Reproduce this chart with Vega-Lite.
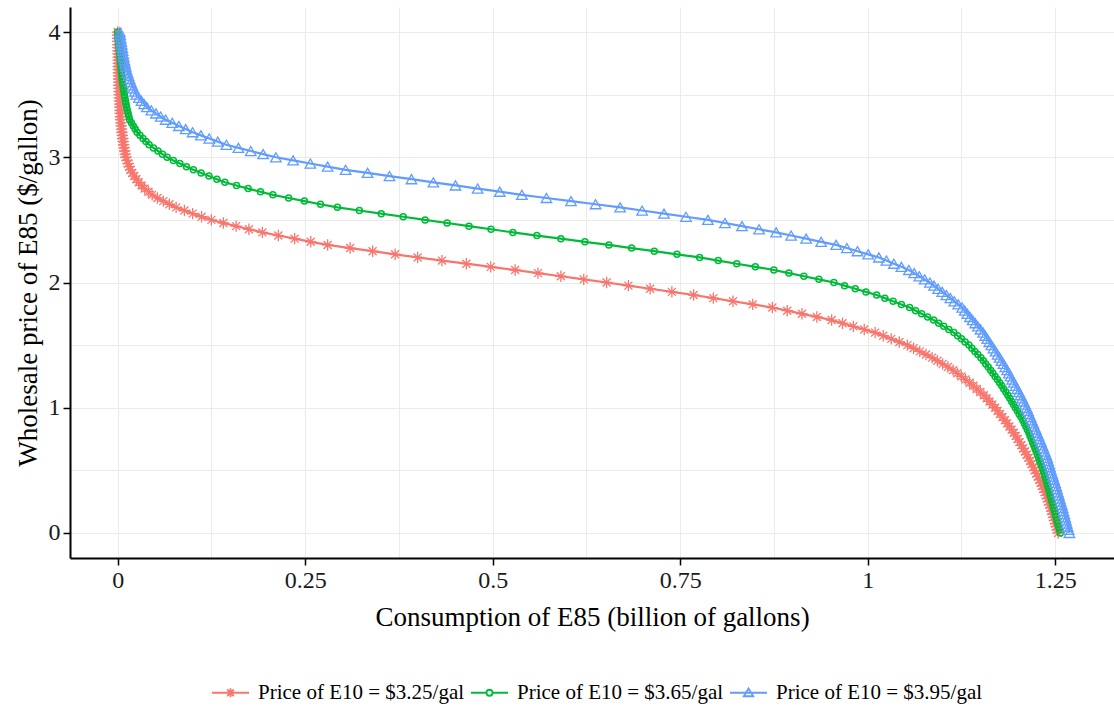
{
"$schema": "https://vega.github.io/schema/vega-lite/v6.json",
"width": 1044, "height": 551,
"autosize": {"type": "none"},
"padding": {"left": 70, "top": 7, "right": 0, "bottom": 157},
"background": "white",
"config": {"view": {"stroke": null}, "font": "Liberation Serif"},
"data": {"values": [
{"s":"r","x":1.254,"y":0},{"s":"r","x":1.2528,"y":0.025},{"s":"r","x":1.2515,"y":0.05},{"s":"r","x":1.2503,"y":0.075},{"s":"r","x":1.249,"y":0.1},
{"s":"r","x":1.2478,"y":0.125},{"s":"r","x":1.2465,"y":0.15},{"s":"r","x":1.2453,"y":0.175},{"s":"r","x":1.244,"y":0.2},{"s":"r","x":1.2425,"y":0.225},
{"s":"r","x":1.241,"y":0.25},{"s":"r","x":1.2395,"y":0.275},{"s":"r","x":1.238,"y":0.3},{"s":"r","x":1.2363,"y":0.325},{"s":"r","x":1.2345,"y":0.35},
{"s":"r","x":1.2328,"y":0.375},{"s":"r","x":1.231,"y":0.4},{"s":"r","x":1.229,"y":0.425},{"s":"r","x":1.227,"y":0.45},{"s":"r","x":1.225,"y":0.475},
{"s":"r","x":1.223,"y":0.5},{"s":"r","x":1.2209,"y":0.525},{"s":"r","x":1.2188,"y":0.55},{"s":"r","x":1.2166,"y":0.575},{"s":"r","x":1.2145,"y":0.6},
{"s":"r","x":1.2121,"y":0.625},{"s":"r","x":1.2098,"y":0.65},{"s":"r","x":1.2074,"y":0.675},{"s":"r","x":1.205,"y":0.7},{"s":"r","x":1.2025,"y":0.725},
{"s":"r","x":1.2,"y":0.75},{"s":"r","x":1.1975,"y":0.775},{"s":"r","x":1.195,"y":0.8},{"s":"r","x":1.192,"y":0.825},{"s":"r","x":1.189,"y":0.85},
{"s":"r","x":1.186,"y":0.875},{"s":"r","x":1.183,"y":0.9},{"s":"r","x":1.1798,"y":0.925},{"s":"r","x":1.1765,"y":0.95},{"s":"r","x":1.1733,"y":0.975},
{"s":"r","x":1.17,"y":1},{"s":"r","x":1.1663,"y":1.025},{"s":"r","x":1.1625,"y":1.05},{"s":"r","x":1.1588,"y":1.075},{"s":"r","x":1.155,"y":1.1},
{"s":"r","x":1.1503,"y":1.125},{"s":"r","x":1.1455,"y":1.15},{"s":"r","x":1.1408,"y":1.175},{"s":"r","x":1.136,"y":1.2},{"s":"r","x":1.1305,"y":1.225},
{"s":"r","x":1.125,"y":1.25},{"s":"r","x":1.1195,"y":1.275},{"s":"r","x":1.114,"y":1.3},{"s":"r","x":1.107,"y":1.325},{"s":"r","x":1.1,"y":1.35},
{"s":"r","x":1.093,"y":1.375},{"s":"r","x":1.086,"y":1.4},{"s":"r","x":1.0778,"y":1.425},{"s":"r","x":1.0695,"y":1.45},{"s":"r","x":1.0613,"y":1.475},
{"s":"r","x":1.053,"y":1.5},{"s":"r","x":1.0423,"y":1.525},{"s":"r","x":1.0315,"y":1.55},{"s":"r","x":1.0208,"y":1.575},{"s":"r","x":1.01,"y":1.6},
{"s":"r","x":0.9955,"y":1.625},{"s":"r","x":0.981,"y":1.65},{"s":"r","x":0.9665,"y":1.675},{"s":"r","x":0.952,"y":1.7},{"s":"r","x":0.9323,"y":1.725},
{"s":"r","x":0.9125,"y":1.75},{"s":"r","x":0.8928,"y":1.775},{"s":"r","x":0.873,"y":1.8},{"s":"r","x":0.8468,"y":1.825},{"s":"r","x":0.8205,"y":1.85},
{"s":"r","x":0.7943,"y":1.875},{"s":"r","x":0.768,"y":1.9},{"s":"r","x":0.739,"y":1.925},{"s":"r","x":0.71,"y":1.95},{"s":"r","x":0.681,"y":1.975},
{"s":"r","x":0.652,"y":2},{"s":"r","x":0.6215,"y":2.025},{"s":"r","x":0.591,"y":2.05},{"s":"r","x":0.5605,"y":2.075},{"s":"r","x":0.53,"y":2.1},
{"s":"r","x":0.4975,"y":2.125},{"s":"r","x":0.465,"y":2.15},{"s":"r","x":0.4325,"y":2.175},{"s":"r","x":0.4,"y":2.2},{"s":"r","x":0.37,"y":2.225},
{"s":"r","x":0.34,"y":2.25},{"s":"r","x":0.31,"y":2.275},{"s":"r","x":0.28,"y":2.3},{"s":"r","x":0.2575,"y":2.325},{"s":"r","x":0.236,"y":2.35},
{"s":"r","x":0.2143,"y":2.375},{"s":"r","x":0.193,"y":2.4},{"s":"r","x":0.175,"y":2.425},{"s":"r","x":0.158,"y":2.45},{"s":"r","x":0.141,"y":2.475},
{"s":"r","x":0.125,"y":2.5},{"s":"r","x":0.112,"y":2.525},{"s":"r","x":0.1,"y":2.55},{"s":"r","x":0.089,"y":2.575},{"s":"r","x":0.078,"y":2.6},
{"s":"r","x":0.069,"y":2.625},{"s":"r","x":0.061,"y":2.65},{"s":"r","x":0.053,"y":2.675},{"s":"r","x":0.046,"y":2.7},{"s":"r","x":0.041,"y":2.725},
{"s":"r","x":0.036,"y":2.75},{"s":"r","x":0.032,"y":2.775},{"s":"r","x":0.028,"y":2.8},{"s":"r","x":0.025,"y":2.825},{"s":"r","x":0.022,"y":2.85},
{"s":"r","x":0.0195,"y":2.875},{"s":"r","x":0.017,"y":2.9},{"s":"r","x":0.0155,"y":2.925},{"s":"r","x":0.014,"y":2.95},{"s":"r","x":0.0125,"y":2.975},
{"s":"r","x":0.011,"y":3},{"s":"r","x":0.0102,"y":3.025},{"s":"r","x":0.0095,"y":3.05},{"s":"r","x":0.0087,"y":3.075},{"s":"r","x":0.008,"y":3.1},
{"s":"r","x":0.0074,"y":3.125},{"s":"r","x":0.0068,"y":3.15},{"s":"r","x":0.0063,"y":3.175},{"s":"r","x":0.0057,"y":3.2},{"s":"r","x":0.0053,"y":3.225},
{"s":"r","x":0.0048,"y":3.25},{"s":"r","x":0.0044,"y":3.275},{"s":"r","x":0.004,"y":3.3},{"s":"r","x":0.0037,"y":3.325},{"s":"r","x":0.0034,"y":3.35},
{"s":"r","x":0.0032,"y":3.375},{"s":"r","x":0.0029,"y":3.4},{"s":"r","x":0.0027,"y":3.425},{"s":"r","x":0.0025,"y":3.45},{"s":"r","x":0.0023,"y":3.475},
{"s":"r","x":0.0021,"y":3.5},{"s":"r","x":0.0019,"y":3.525},{"s":"r","x":0.0018,"y":3.55},{"s":"r","x":0.0016,"y":3.575},{"s":"r","x":0.0015,"y":3.6},
{"s":"r","x":0.0014,"y":3.625},{"s":"r","x":0.0012,"y":3.65},{"s":"r","x":0.0011,"y":3.675},{"s":"r","x":0.001,"y":3.7},{"s":"r","x":0.0009,"y":3.725},
{"s":"r","x":0.0008,"y":3.75},{"s":"r","x":0.0007,"y":3.775},{"s":"r","x":0.0006,"y":3.8},{"s":"r","x":0.0005,"y":3.825},{"s":"r","x":0.0004,"y":3.85},
{"s":"r","x":0.00035,"y":3.875},{"s":"r","x":0.0003,"y":3.9},{"s":"r","x":0.0002,"y":3.925},{"s":"r","x":0.00015,"y":3.95},{"s":"r","x":0.0001,"y":3.975},
{"s":"r","x":0,"y":4},
{"s":"g","x":1.257,"y":0},{"s":"g","x":1.2559,"y":0.025},{"s":"g","x":1.2548,"y":0.05},{"s":"g","x":1.2536,"y":0.075},{"s":"g","x":1.2525,"y":0.1},
{"s":"g","x":1.2514,"y":0.125},{"s":"g","x":1.2503,"y":0.15},{"s":"g","x":1.2491,"y":0.175},{"s":"g","x":1.248,"y":0.2},{"s":"g","x":1.2469,"y":0.225},
{"s":"g","x":1.2458,"y":0.25},{"s":"g","x":1.2446,"y":0.275},{"s":"g","x":1.2435,"y":0.3},{"s":"g","x":1.2424,"y":0.325},{"s":"g","x":1.2413,"y":0.35},
{"s":"g","x":1.2401,"y":0.375},{"s":"g","x":1.239,"y":0.4},{"s":"g","x":1.2378,"y":0.425},{"s":"g","x":1.2365,"y":0.45},{"s":"g","x":1.2353,"y":0.475},
{"s":"g","x":1.234,"y":0.5},{"s":"g","x":1.2325,"y":0.525},{"s":"g","x":1.231,"y":0.55},{"s":"g","x":1.2295,"y":0.575},{"s":"g","x":1.228,"y":0.6},
{"s":"g","x":1.2264,"y":0.625},{"s":"g","x":1.2248,"y":0.65},{"s":"g","x":1.2231,"y":0.675},{"s":"g","x":1.2215,"y":0.7},{"s":"g","x":1.2199,"y":0.725},
{"s":"g","x":1.2183,"y":0.75},{"s":"g","x":1.2166,"y":0.775},{"s":"g","x":1.215,"y":0.8},{"s":"g","x":1.213,"y":0.825},{"s":"g","x":1.211,"y":0.85},
{"s":"g","x":1.209,"y":0.875},{"s":"g","x":1.207,"y":0.9},{"s":"g","x":1.2045,"y":0.925},{"s":"g","x":1.202,"y":0.95},{"s":"g","x":1.1995,"y":0.975},
{"s":"g","x":1.197,"y":1},{"s":"g","x":1.1945,"y":1.025},{"s":"g","x":1.192,"y":1.05},{"s":"g","x":1.1895,"y":1.075},{"s":"g","x":1.187,"y":1.1},
{"s":"g","x":1.1843,"y":1.125},{"s":"g","x":1.1815,"y":1.15},{"s":"g","x":1.1788,"y":1.175},{"s":"g","x":1.176,"y":1.2},{"s":"g","x":1.173,"y":1.225},
{"s":"g","x":1.17,"y":1.25},{"s":"g","x":1.167,"y":1.275},{"s":"g","x":1.164,"y":1.3},{"s":"g","x":1.1608,"y":1.325},{"s":"g","x":1.1575,"y":1.35},
{"s":"g","x":1.1543,"y":1.375},{"s":"g","x":1.151,"y":1.4},{"s":"g","x":1.147,"y":1.425},{"s":"g","x":1.143,"y":1.45},{"s":"g","x":1.139,"y":1.475},
{"s":"g","x":1.135,"y":1.5},{"s":"g","x":1.13,"y":1.525},{"s":"g","x":1.125,"y":1.55},{"s":"g","x":1.12,"y":1.575},{"s":"g","x":1.115,"y":1.6},
{"s":"g","x":1.1083,"y":1.625},{"s":"g","x":1.1015,"y":1.65},{"s":"g","x":1.0948,"y":1.675},{"s":"g","x":1.088,"y":1.7},{"s":"g","x":1.08,"y":1.725},
{"s":"g","x":1.072,"y":1.75},{"s":"g","x":1.064,"y":1.775},{"s":"g","x":1.056,"y":1.8},{"s":"g","x":1.045,"y":1.825},{"s":"g","x":1.034,"y":1.85},
{"s":"g","x":1.023,"y":1.875},{"s":"g","x":1.012,"y":1.9},{"s":"g","x":0.9978,"y":1.925},{"s":"g","x":0.9835,"y":1.95},{"s":"g","x":0.9693,"y":1.975},
{"s":"g","x":0.955,"y":2},{"s":"g","x":0.935,"y":2.025},{"s":"g","x":0.915,"y":2.05},{"s":"g","x":0.895,"y":2.075},{"s":"g","x":0.875,"y":2.1},
{"s":"g","x":0.8503,"y":2.125},{"s":"g","x":0.8255,"y":2.15},{"s":"g","x":0.8008,"y":2.175},{"s":"g","x":0.776,"y":2.2},{"s":"g","x":0.7458,"y":2.225},
{"s":"g","x":0.7155,"y":2.25},{"s":"g","x":0.6853,"y":2.275},{"s":"g","x":0.655,"y":2.3},{"s":"g","x":0.623,"y":2.325},{"s":"g","x":0.591,"y":2.35},
{"s":"g","x":0.559,"y":2.375},{"s":"g","x":0.527,"y":2.4},{"s":"g","x":0.4978,"y":2.425},{"s":"g","x":0.4685,"y":2.45},{"s":"g","x":0.4393,"y":2.475},
{"s":"g","x":0.41,"y":2.5},{"s":"g","x":0.3808,"y":2.525},{"s":"g","x":0.3515,"y":2.55},{"s":"g","x":0.3223,"y":2.575},{"s":"g","x":0.293,"y":2.6},
{"s":"g","x":0.2705,"y":2.625},{"s":"g","x":0.249,"y":2.65},{"s":"g","x":0.228,"y":2.675},{"s":"g","x":0.207,"y":2.7},{"s":"g","x":0.1905,"y":2.725},
{"s":"g","x":0.174,"y":2.75},{"s":"g","x":0.1585,"y":2.775},{"s":"g","x":0.143,"y":2.8},{"s":"g","x":0.1323,"y":2.825},{"s":"g","x":0.1218,"y":2.85},
{"s":"g","x":0.1113,"y":2.875},{"s":"g","x":0.101,"y":2.9},{"s":"g","x":0.0918,"y":2.925},{"s":"g","x":0.083,"y":2.95},{"s":"g","x":0.0743,"y":2.975},
{"s":"g","x":0.066,"y":3},{"s":"g","x":0.0598,"y":3.025},{"s":"g","x":0.0538,"y":3.05},{"s":"g","x":0.0478,"y":3.075},{"s":"g","x":0.042,"y":3.1},
{"s":"g","x":0.0378,"y":3.125},{"s":"g","x":0.0338,"y":3.15},{"s":"g","x":0.0298,"y":3.175},{"s":"g","x":0.026,"y":3.2},{"s":"g","x":0.0234,"y":3.225},
{"s":"g","x":0.0209,"y":3.25},{"s":"g","x":0.0184,"y":3.275},{"s":"g","x":0.016,"y":3.3},{"s":"g","x":0.015,"y":3.325},{"s":"g","x":0.014,"y":3.35},
{"s":"g","x":0.013,"y":3.375},{"s":"g","x":0.012,"y":3.4},{"s":"g","x":0.0112,"y":3.425},{"s":"g","x":0.0105,"y":3.45},{"s":"g","x":0.0097,"y":3.475},
{"s":"g","x":0.009,"y":3.5},{"s":"g","x":0.0084,"y":3.525},{"s":"g","x":0.0078,"y":3.55},{"s":"g","x":0.0071,"y":3.575},{"s":"g","x":0.0065,"y":3.6},
{"s":"g","x":0.0061,"y":3.625},{"s":"g","x":0.0057,"y":3.65},{"s":"g","x":0.0052,"y":3.675},{"s":"g","x":0.0048,"y":3.7},{"s":"g","x":0.0044,"y":3.725},
{"s":"g","x":0.004,"y":3.75},{"s":"g","x":0.0036,"y":3.775},{"s":"g","x":0.0032,"y":3.8},{"s":"g","x":0.0028,"y":3.825},{"s":"g","x":0.0024,"y":3.85},
{"s":"g","x":0.002,"y":3.875},{"s":"g","x":0.0016,"y":3.9},{"s":"g","x":0.0012,"y":3.925},{"s":"g","x":0.0008,"y":3.95},{"s":"g","x":0.0004,"y":3.975},
{"s":"g","x":0,"y":4},
{"s":"b","x":1.269,"y":0},{"s":"b","x":1.2679,"y":0.025},{"s":"b","x":1.2668,"y":0.05},{"s":"b","x":1.2656,"y":0.075},{"s":"b","x":1.2645,"y":0.1},
{"s":"b","x":1.2634,"y":0.125},{"s":"b","x":1.2623,"y":0.15},{"s":"b","x":1.2611,"y":0.175},{"s":"b","x":1.26,"y":0.2},{"s":"b","x":1.2588,"y":0.225},
{"s":"b","x":1.2575,"y":0.25},{"s":"b","x":1.2563,"y":0.275},{"s":"b","x":1.255,"y":0.3},{"s":"b","x":1.2538,"y":0.325},{"s":"b","x":1.2525,"y":0.35},
{"s":"b","x":1.2513,"y":0.375},{"s":"b","x":1.25,"y":0.4},{"s":"b","x":1.2486,"y":0.425},{"s":"b","x":1.2473,"y":0.45},{"s":"b","x":1.2459,"y":0.475},
{"s":"b","x":1.2445,"y":0.5},{"s":"b","x":1.2433,"y":0.525},{"s":"b","x":1.242,"y":0.55},{"s":"b","x":1.2408,"y":0.575},{"s":"b","x":1.2395,"y":0.6},
{"s":"b","x":1.2379,"y":0.625},{"s":"b","x":1.2363,"y":0.65},{"s":"b","x":1.2346,"y":0.675},{"s":"b","x":1.233,"y":0.7},{"s":"b","x":1.2313,"y":0.725},
{"s":"b","x":1.2295,"y":0.75},{"s":"b","x":1.2278,"y":0.775},{"s":"b","x":1.226,"y":0.8},{"s":"b","x":1.2243,"y":0.825},{"s":"b","x":1.2225,"y":0.85},
{"s":"b","x":1.2208,"y":0.875},{"s":"b","x":1.219,"y":0.9},{"s":"b","x":1.2173,"y":0.925},{"s":"b","x":1.2155,"y":0.95},{"s":"b","x":1.2138,"y":0.975},
{"s":"b","x":1.212,"y":1},{"s":"b","x":1.21,"y":1.025},{"s":"b","x":1.208,"y":1.05},{"s":"b","x":1.206,"y":1.075},{"s":"b","x":1.204,"y":1.1},
{"s":"b","x":1.2018,"y":1.125},{"s":"b","x":1.1995,"y":1.15},{"s":"b","x":1.1973,"y":1.175},{"s":"b","x":1.195,"y":1.2},{"s":"b","x":1.1928,"y":1.225},
{"s":"b","x":1.1905,"y":1.25},{"s":"b","x":1.1883,"y":1.275},{"s":"b","x":1.186,"y":1.3},{"s":"b","x":1.1835,"y":1.325},{"s":"b","x":1.181,"y":1.35},
{"s":"b","x":1.1785,"y":1.375},{"s":"b","x":1.176,"y":1.4},{"s":"b","x":1.1733,"y":1.425},{"s":"b","x":1.1705,"y":1.45},{"s":"b","x":1.1678,"y":1.475},
{"s":"b","x":1.165,"y":1.5},{"s":"b","x":1.1623,"y":1.525},{"s":"b","x":1.1595,"y":1.55},{"s":"b","x":1.1568,"y":1.575},{"s":"b","x":1.154,"y":1.6},
{"s":"b","x":1.1505,"y":1.625},{"s":"b","x":1.147,"y":1.65},{"s":"b","x":1.1435,"y":1.675},{"s":"b","x":1.14,"y":1.7},{"s":"b","x":1.1365,"y":1.725},
{"s":"b","x":1.133,"y":1.75},{"s":"b","x":1.1295,"y":1.775},{"s":"b","x":1.126,"y":1.8},{"s":"b","x":1.1208,"y":1.825},{"s":"b","x":1.1155,"y":1.85},
{"s":"b","x":1.1103,"y":1.875},{"s":"b","x":1.105,"y":1.9},{"s":"b","x":1.0995,"y":1.925},{"s":"b","x":1.094,"y":1.95},{"s":"b","x":1.0885,"y":1.975},
{"s":"b","x":1.083,"y":2},{"s":"b","x":1.076,"y":2.025},{"s":"b","x":1.069,"y":2.05},{"s":"b","x":1.062,"y":2.075},{"s":"b","x":1.055,"y":2.1},
{"s":"b","x":1.045,"y":2.125},{"s":"b","x":1.035,"y":2.15},{"s":"b","x":1.025,"y":2.175},{"s":"b","x":1.015,"y":2.2},{"s":"b","x":1.0008,"y":2.225},
{"s":"b","x":0.9865,"y":2.25},{"s":"b","x":0.9723,"y":2.275},{"s":"b","x":0.958,"y":2.3},{"s":"b","x":0.938,"y":2.325},{"s":"b","x":0.918,"y":2.35},
{"s":"b","x":0.898,"y":2.375},{"s":"b","x":0.878,"y":2.4},{"s":"b","x":0.8553,"y":2.425},{"s":"b","x":0.8325,"y":2.45},{"s":"b","x":0.8098,"y":2.475},
{"s":"b","x":0.787,"y":2.5},{"s":"b","x":0.7578,"y":2.525},{"s":"b","x":0.7285,"y":2.55},{"s":"b","x":0.6993,"y":2.575},{"s":"b","x":0.67,"y":2.6},
{"s":"b","x":0.6373,"y":2.625},{"s":"b","x":0.6045,"y":2.65},{"s":"b","x":0.5718,"y":2.675},{"s":"b","x":0.539,"y":2.7},{"s":"b","x":0.5095,"y":2.725},
{"s":"b","x":0.48,"y":2.75},{"s":"b","x":0.4505,"y":2.775},{"s":"b","x":0.421,"y":2.8},{"s":"b","x":0.3918,"y":2.825},{"s":"b","x":0.3625,"y":2.85},
{"s":"b","x":0.3333,"y":2.875},{"s":"b","x":0.304,"y":2.9},{"s":"b","x":0.28,"y":2.925},{"s":"b","x":0.257,"y":2.95},{"s":"b","x":0.234,"y":2.975},
{"s":"b","x":0.211,"y":3},{"s":"b","x":0.194,"y":3.025},{"s":"b","x":0.1775,"y":3.05},{"s":"b","x":0.161,"y":3.075},{"s":"b","x":0.145,"y":3.1},
{"s":"b","x":0.1335,"y":3.125},{"s":"b","x":0.1222,"y":3.15},{"s":"b","x":0.111,"y":3.175},{"s":"b","x":0.1,"y":3.2},{"s":"b","x":0.0907,"y":3.225},
{"s":"b","x":0.0817,"y":3.25},{"s":"b","x":0.0728,"y":3.275},{"s":"b","x":0.064,"y":3.3},{"s":"b","x":0.0574,"y":3.325},{"s":"b","x":0.0511,"y":3.35},
{"s":"b","x":0.0449,"y":3.375},{"s":"b","x":0.039,"y":3.4},{"s":"b","x":0.0354,"y":3.425},{"s":"b","x":0.0318,"y":3.45},{"s":"b","x":0.0283,"y":3.475},
{"s":"b","x":0.025,"y":3.5},{"s":"b","x":0.023,"y":3.525},{"s":"b","x":0.0211,"y":3.55},{"s":"b","x":0.0193,"y":3.575},{"s":"b","x":0.0175,"y":3.6},
{"s":"b","x":0.016,"y":3.625},{"s":"b","x":0.0146,"y":3.65},{"s":"b","x":0.0132,"y":3.675},{"s":"b","x":0.0118,"y":3.7},{"s":"b","x":0.0109,"y":3.725},
{"s":"b","x":0.01,"y":3.75},{"s":"b","x":0.0091,"y":3.775},{"s":"b","x":0.0082,"y":3.8},{"s":"b","x":0.0075,"y":3.825},{"s":"b","x":0.0068,"y":3.85},
{"s":"b","x":0.0062,"y":3.875},{"s":"b","x":0.0055,"y":3.9},{"s":"b","x":0.0049,"y":3.925},{"s":"b","x":0.0042,"y":3.95},{"s":"b","x":0.0036,"y":3.975},
{"s":"b","x":0.003,"y":4}
]},
"encoding": {
  "x": {"field": "x", "type": "quantitative",
    "scale": {"domain": [-0.0635, 1.3285], "nice": false, "zero": false},
    "axis": {
      "values": [0, 0.125, 0.25, 0.375, 0.5, 0.625, 0.75, 0.875, 1, 1.125, 1.25],
      "labelExpr": "(datum.value*4)%1===0 ? format(datum.value,'~g') : ''",
      "tickOpacity": {"condition": {"test": "(datum.value*4)%1!==0", "value": 0}, "value": 1},
      "title": "Consumption of E85 (billion of gallons)",
      "grid": true, "gridColor": "#EBEBEB", "gridWidth": 1,
      "domainColor": "black", "domainWidth": 2, "tickColor": "black", "tickWidth": 1.5, "tickSize": 7,
      "labelFont": "Liberation Serif", "labelFontSize": 24, "labelColor": "#1a1a1a", "labelPadding": 3,
      "labelFlush": false, "labelOverlap": false,
      "titleFont": "Liberation Serif", "titleFontSize": 27, "titleFontWeight": "normal", "titleColor": "black", "titlePadding": 12
    }},
  "y": {"field": "y", "type": "quantitative",
    "scale": {"domain": [-0.2, 4.2], "nice": false, "zero": false},
    "axis": {
      "values": [0, 0.5, 1, 1.5, 2, 2.5, 3, 3.5, 4],
      "labelExpr": "datum.value%1===0 ? format(datum.value,'d') : ''",
      "tickOpacity": {"condition": {"test": "datum.value%1!==0", "value": 0}, "value": 1},
      "title": "Wholesale price of E85 ($/gallon)",
      "grid": true, "gridColor": "#EBEBEB", "gridWidth": 1,
      "domainColor": "black", "domainWidth": 2, "tickColor": "black", "tickWidth": 1.5, "tickSize": 7,
      "labelFont": "Liberation Serif", "labelFontSize": 24, "labelColor": "#1a1a1a", "labelPadding": 3,
      "labelFlush": false, "labelOverlap": false,
      "titleFont": "Liberation Serif", "titleFontSize": 27, "titleFontWeight": "normal", "titleColor": "black", "titlePadding": 6
    }},
  "color": {"field": "s", "type": "nominal",
    "scale": {"domain": ["r", "g", "b"], "range": ["#F8766D", "#00BA38", "#619CFF"]},
    "legend": {
      "orient": "none", "legendX": 150, "legendY": 675, "direction": "horizontal", "title": null,
      "labelExpr": "datum.value === 'r' ? 'Price of E10 = $3.25/gal' : datum.value === 'g' ? 'Price of E10 = $3.65/gal' : 'Price of E10 = $3.95/gal'",
      "labelFont": "Liberation Serif", "labelFontSize": 21, "labelColor": "black", "labelLimit": 0,
      "symbolSize": 100, "labelOffset": 17, "columnPadding": 2, "padding": 0, "symbolOffset": 0,
      "encode": {"symbols": {"update": {
        "shape": {"signal": "datum.value === 'r' ? 'M-3.7,0L3.7,0M-0.9,0L0.9,0M0,-0.9L0,0.9M-0.65,-0.65L0.65,0.65M-0.65,0.65L0.65,-0.65' : datum.value === 'g' ? 'M-3.7,0L-0.6,0M0.6,0L3.7,0M0.6,0A0.6,0.6,0,1,1,-0.6,0A0.6,0.6,0,1,1,0.6,0' : 'M-3.7,0L3.7,0M0,-0.85L0.95,0.7L-0.95,0.7Z'"},
        "size": {"value": 100},
        "strokeWidth": {"value": 1.8},
        "fill": {"value": "transparent"},
        "stroke": {"scale": "color", "field": "value"},
        "opacity": {"value": 1}
      }}}
    }}
},
"layer": [
  {"mark": {"type": "line", "strokeWidth": 2.2}, "encoding": {"order": {"field": "y", "type": "quantitative"}}},
  {"transform": [{"filter": "datum.s === 'r'"}],
   "mark": {"type": "point", "filled": false, "strokeWidth": 1.3, "opacity": 1, "size": 130,
     "shape": "M-1,0L1,0M0,-1L0,1M-0.7,-0.7L0.7,0.7M-0.7,0.7L0.7,-0.7"}},
  {"transform": [{"filter": "datum.s === 'g'"}],
   "mark": {"type": "point", "filled": false, "strokeWidth": 1.5, "opacity": 1, "size": 36, "shape": "circle"}},
  {"transform": [{"filter": "datum.s === 'b'"}],
   "mark": {"type": "point", "filled": false, "strokeWidth": 1.3, "opacity": 1, "size": 110, "shape": "triangle-up"}}
]
}
